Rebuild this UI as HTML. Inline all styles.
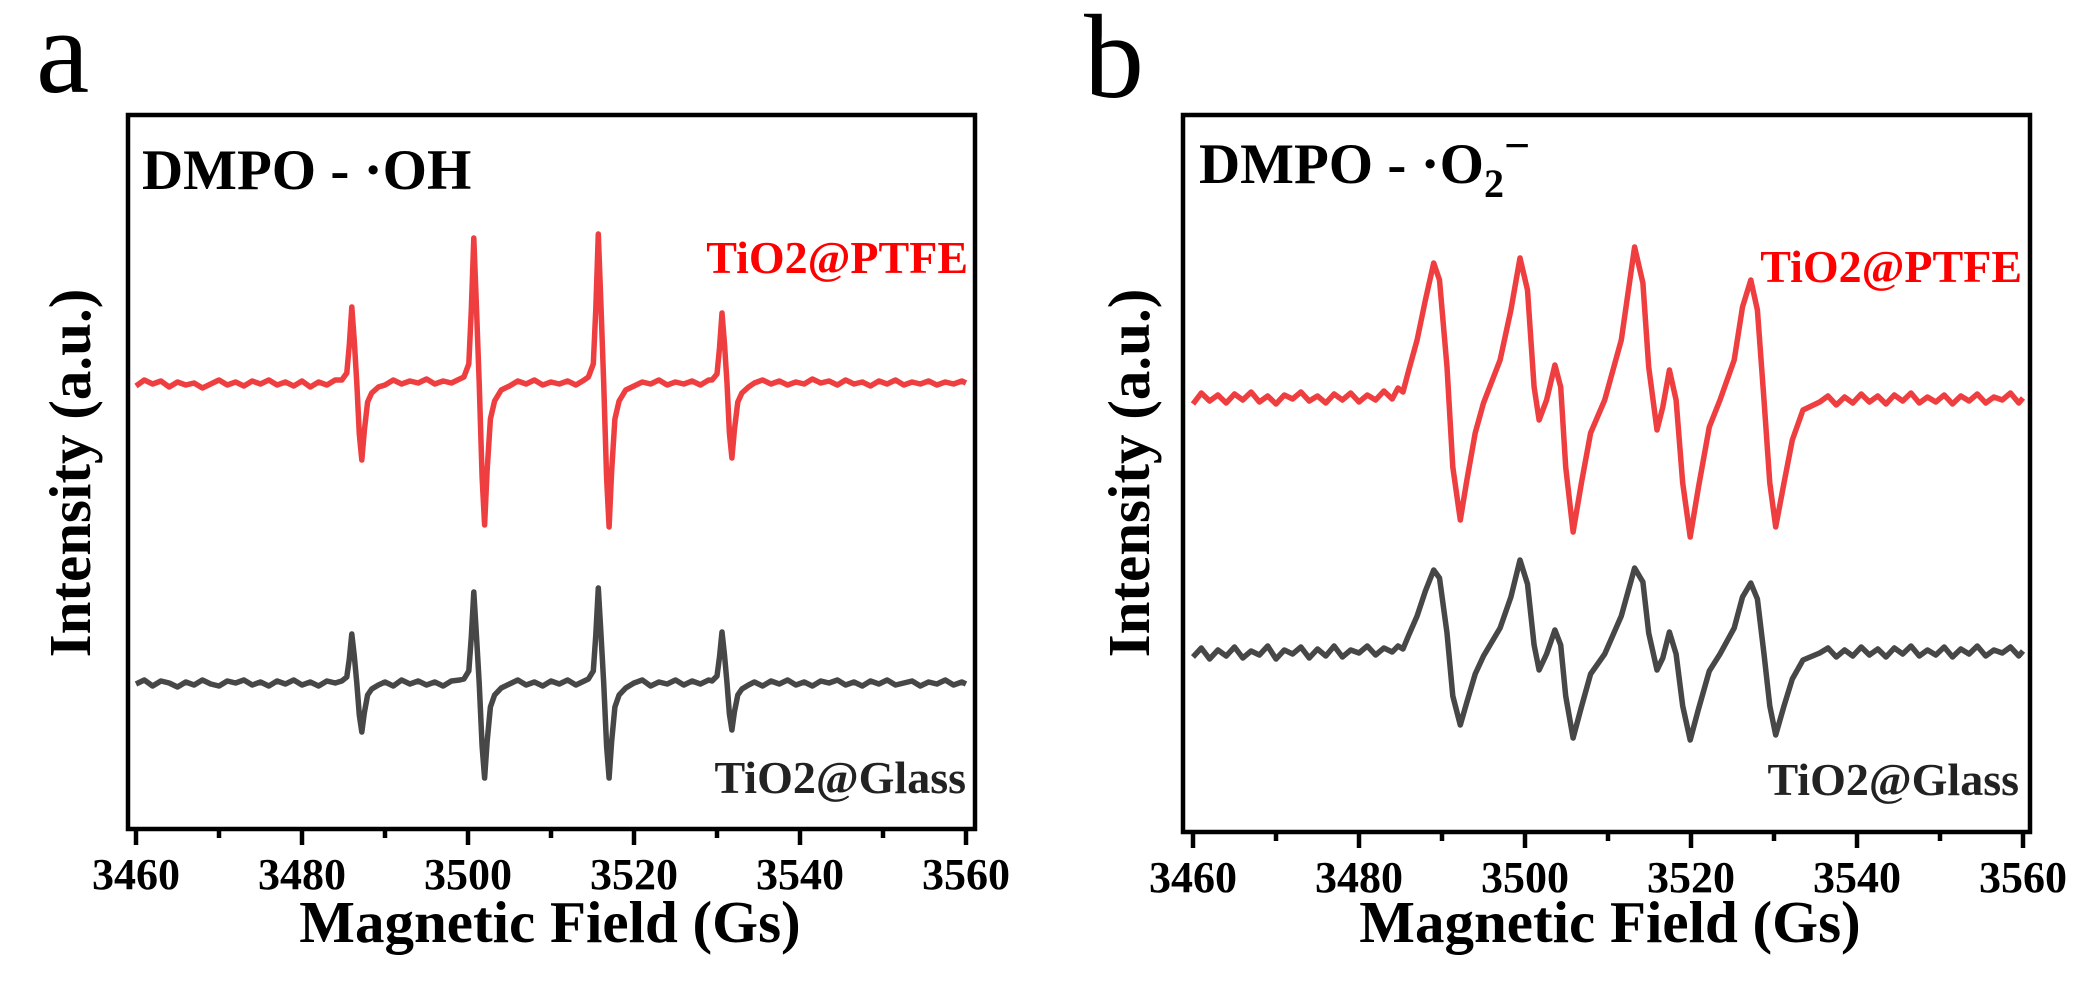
<!DOCTYPE html>
<html><head><meta charset="utf-8"><style>
html,body{margin:0;padding:0;background:#fff;}
svg{display:block;font-family:"Liberation Serif","Times New Roman",serif;}
</style></head><body>
<svg id="fig" width="2080" height="982" viewBox="0 0 2080 982" xmlns="http://www.w3.org/2000/svg">
<text x="36" y="92" font-size="120">a</text>
<text x="1084" y="97" font-size="120">b</text>
<g id="pa"></g>
<g id="pb"></g>
</svg>
<script>
const xTicks = [3460, 3480, 3500, 3520, 3540, 3560];
const xMinorTicks = [3470, 3490, 3510, 3530, 3550];
const xTickLabels = ["3460", "3480", "3500", "3520", "3540", "3560"];

const aRedX = [3460,3461,3462,3463,3464,3465,3466,3467,3468,3469,3470,3471,3472,3473,3474,3475,3476,3477,3478,3479,3480,3481,3482,3483,3484,
3484.8,3485.4,3485.7,3486.0,3486.3,3486.6,3486.9,3487.2,3487.5,3487.9,3488.4,3489.2,
3490,3491,3492,3493,3494,3495,3496,3497,3498,3499,
3499.5,3500.1,3500.4,3500.7,3501.0,3501.35,3501.7,3502.0,3502.3,3502.7,3503.2,3504.0,
3505,3506,3507,3508,3509,3510,3511,3512,3513,3514,
3514.5,3515.1,3515.4,3515.7,3516.0,3516.35,3516.7,3517.0,3517.3,3517.7,3518.2,3519.0,
3520,3521,3522,3523,3524,3525,3526,3527,3528,3529,
3529.4,3530.0,3530.3,3530.6,3530.9,3531.2,3531.5,3531.8,3532.1,3532.5,3533.0,3533.8,
3534.5,3535.5,3536.5,3537.5,3538.5,3539.5,3540.5,3541.5,3542.5,3543.5,3544.5,3545.5,3546.5,3547.5,3548.5,3549.5,3550.5,3551.5,3552.5,3553.5,3554.5,3555.5,3556.5,3557.5,3558.5,3559.5,3560];
const aRedY = [44.3,44.9,44.5,44.8,44.2,44.7,44.4,44.6,44.1,44.5,44.9,44.4,44.7,44.3,44.8,44.5,44.9,44.4,44.7,44.3,44.8,44.2,44.7,44.4,44.9,
44.9,45.6,48.4,52.2,48.8,44.6,39.5,36.9,39.8,42.7,43.6,44.2,
44.4,44.9,44.5,44.8,44.6,45.0,44.5,44.8,44.6,45.0,
45.2,46.5,51.9,59.1,52.6,44.6,35.2,30.4,35.8,41.0,42.8,43.9,
44.3,44.8,44.5,44.9,44.4,44.7,44.5,44.8,44.4,44.9,
45.2,46.5,52.0,59.5,52.8,44.6,35.1,30.2,35.7,41.0,42.8,43.9,
44.3,44.7,44.5,44.9,44.4,44.7,44.5,44.8,44.4,44.9,
44.9,45.5,48.1,51.6,48.5,44.6,39.6,37.1,39.9,42.7,43.6,44.2,
44.6,44.9,44.5,44.8,44.4,44.7,44.5,45.0,44.6,44.8,44.4,44.9,44.5,44.7,44.3,44.8,44.5,44.9,44.4,44.7,44.5,44.8,44.4,44.7,44.5,44.8,44.6];
const aGrayX = aRedX;
const aGrayY = [14.5,14.9,14.3,14.8,14.6,14.2,14.7,14.4,14.9,14.5,14.3,14.8,14.6,14.9,14.4,14.7,14.3,14.8,14.5,14.9,14.4,14.7,14.3,14.8,14.6,
14.8,15.2,17.0,19.5,17.3,14.6,11.4,9.7,11.6,13.4,14.0,14.4,
14.7,14.3,14.9,14.5,14.8,14.4,14.7,14.3,14.8,14.9,
15.0,15.8,19.2,23.7,19.6,14.6,8.3,5.1,8.7,12.2,13.4,14.1,
14.5,14.9,14.4,14.7,14.3,14.8,14.5,14.9,14.4,14.8,
15.0,15.8,19.4,24.1,19.8,14.6,8.3,5.1,8.7,12.2,13.4,14.1,
14.6,14.9,14.3,14.7,14.5,14.9,14.4,14.8,14.5,14.9,
14.8,15.3,17.2,19.7,17.4,14.6,11.5,9.9,11.7,13.4,14.0,14.4,
14.7,14.3,14.8,14.5,14.9,14.4,14.7,14.3,14.8,14.6,14.9,14.4,14.7,14.3,14.8,14.5,14.9,14.4,14.6,14.8,14.3,14.7,14.5,14.9,14.4,14.7,14.5];

const bRedX = [3460,3461,3462,3463,3464,3465,3466,3467,3468,3469,3470,3471,3472,3473,3474,3475,3476,3477,3478,3479,3480,3481,3482,3483,3484,3484.7,
3485.3,3486.0,3487.0,3488.0,3489.0,3489.7,3490.6,3491.3,3492.2,3493.0,3494.0,3495.0,3497.0,3498.3,3499.4,3500.3,3501.1,3501.7,3502.6,3503.6,3504.3,3504.9,3505.8,3506.8,3507.9,3509.6,3511.6,3513.2,3514.2,3514.9,3515.9,3516.6,3517.4,3518.2,3519.0,3519.9,3520.9,3522.2,3523.5,3525.2,3526.2,3527.2,3528.0,3528.8,3529.5,3530.2,3531.2,3532.2,3533.5,3535.5,
3536.5,3537.5,3538.5,3539.5,3540.5,3541.5,3542.5,3543.5,3544.5,3545.5,3546.5,3547.5,3548.5,3549.5,3550.5,3551.5,3552.5,3553.5,3554.5,3555.5,3556.5,3557.5,3558.5,3559.5,3560];
const bRedY = [42.8,43.9,43.1,43.7,42.9,43.8,43.2,44.0,43.0,43.6,42.8,43.7,43.3,44.0,43.1,43.6,42.9,43.8,43.2,43.9,43.0,43.7,43.2,44.1,43.3,44.4,
44.0,46.2,49.2,53.2,56.9,55.2,46.5,36.5,31.2,35.2,39.9,42.9,47.2,52.2,57.4,54.2,44.5,41.2,43.2,46.7,44.5,36.5,30.0,34.9,39.9,43.2,49.2,58.5,54.9,46.5,40.2,42.5,46.2,43.2,34.9,29.5,34.5,40.5,43.2,47.2,52.5,55.2,52.2,43.2,34.9,30.5,34.9,39.2,42.2,43.0,
43.6,42.7,43.5,42.9,43.8,43.0,43.6,42.8,43.7,43.1,43.9,42.9,43.5,43.0,43.7,42.8,43.6,43.1,43.8,42.9,43.5,43.2,43.9,42.9,43.4];
const bGrayX = bRedX;
const bGrayY = [17.5,18.4,17.3,18.2,17.6,18.5,17.4,18.1,17.7,18.6,17.3,18.2,17.8,18.5,17.4,18.3,17.6,18.6,17.5,18.2,17.9,18.6,17.7,18.4,18.0,18.6,
18.3,19.7,21.6,24.1,26.2,25.4,19.9,13.6,10.7,13.0,15.8,17.6,20.4,23.5,27.2,24.8,18.7,16.2,17.8,20.2,18.7,13.6,9.4,12.5,15.8,17.8,21.6,26.4,25.0,19.9,16.2,17.4,20.0,17.8,12.6,9.2,12.3,16.1,17.8,20.4,23.5,24.9,23.3,17.8,12.6,9.7,12.6,15.3,17.2,17.9,
18.4,17.5,18.2,17.6,18.5,17.7,18.3,17.5,18.4,17.8,18.6,17.6,18.2,17.7,18.5,17.5,18.3,17.8,18.6,17.6,18.2,17.9,18.5,17.6,18.1];

const NS = "http://www.w3.org/2000/svg";
function mk(tag, attrs, parent) {
  const e = document.createElementNS(NS, tag);
  for (const k in attrs) e.setAttribute(k, attrs[k]);
  parent.appendChild(e);
  return e;
}
function makeScale(d0, d1, r0, r1) { return v => r0 + (v - d0) / (d1 - d0) * (r1 - r0); }

function drawPanel(g, cfg) {
  const xs = makeScale(3460, 3560, cfg.x0, cfg.x1);
  const ys = makeScale(0, cfg.ymax, cfg.bottom, cfg.top);
  const frame = mk("rect", {x: cfg.left, y: cfg.top, width: cfg.right - cfg.left, height: cfg.bottom - cfg.top, fill: "none", stroke: "#000", "stroke-width": 4.5}, g);
  
  
  xTicks.forEach((t, i) => {
    const tk = mk("line", {x1: xs(t), x2: xs(t), y1: cfg.bottom, y2: cfg.bottom + 16, stroke: "#000", "stroke-width": 4.5}, g);
    
    
    const lb = mk("text", {x: xs(t), y: cfg.bottom + 60, "font-size": 44, "font-weight": "bold", "text-anchor": "middle"}, g);
    
    
    lb.textContent = xTickLabels[i];
  });
  xMinorTicks.forEach(t => {
    const tk = mk("line", {x1: xs(t), x2: xs(t), y1: cfg.bottom, y2: cfg.bottom + 9, stroke: "#000", "stroke-width": 4.5}, g);
    
    
  });
  cfg.series.forEach(s => {
    const d = s.x.map((v, i) => (i ? "L" : "M") + xs(v).toFixed(1) + "," + ys(s.y[i]).toFixed(1)).join("");
    const p = mk("path", {d: d, fill: "none", stroke: s.color, "stroke-width": 5.5, "stroke-linejoin": "round"}, g);
    
    
  });
}

drawPanel(document.getElementById("pa"), {left:128, right:975, top:115, bottom:829, x0:136, x1:966, ymax:71.4,
  series:[{x:aRedX, y:aRedY, color:"#ef3e40", name:"tio2-ptfe-trace"},{x:aGrayX, y:aGrayY, color:"#474747", name:"tio2-glass-trace"}]});
drawPanel(document.getElementById("pb"), {left:1183, right:2030, top:115, bottom:832, x0:1193, x1:2023, ymax:71.7,
  series:[{x:bRedX, y:bRedY, color:"#ef3e40", name:"tio2-ptfe-trace"},{x:bGrayX, y:bGrayY, color:"#474747", name:"tio2-glass-trace"}]});
</script>
<svg style="position:absolute;left:0;top:0" width="2080" height="982" xmlns="http://www.w3.org/2000/svg" font-family="Liberation Serif, serif" font-weight="bold">
<text x="142" y="189" font-size="57">DMPO - ·OH</text>
<text x="968" y="273" font-size="46" fill="#ff0000" text-anchor="end">TiO2@PTFE</text>
<text x="966" y="793" font-size="46" fill="#222" text-anchor="end">TiO2@Glass</text>
<text transform="translate(90,473) rotate(-90)" font-size="59" text-anchor="middle">Intensity (a.u.)</text>
<text x="550" y="942" font-size="59" text-anchor="middle">Magnetic Field (Gs)</text>
<text x="1199" y="183" font-size="57">DMPO - ·O<tspan font-size="40" dy="14">2</tspan><tspan font-size="46" dy="-36">−</tspan></text>
<text x="2022" y="282" font-size="46" fill="#ff0000" text-anchor="end">TiO2@PTFE</text>
<text x="2019" y="795" font-size="46" fill="#222" text-anchor="end">TiO2@Glass</text>
<text transform="translate(1149,473) rotate(-90)" font-size="59" text-anchor="middle">Intensity (a.u.)</text>
<text x="1610" y="942" font-size="59" text-anchor="middle">Magnetic Field (Gs)</text>
</svg>
</body></html>
